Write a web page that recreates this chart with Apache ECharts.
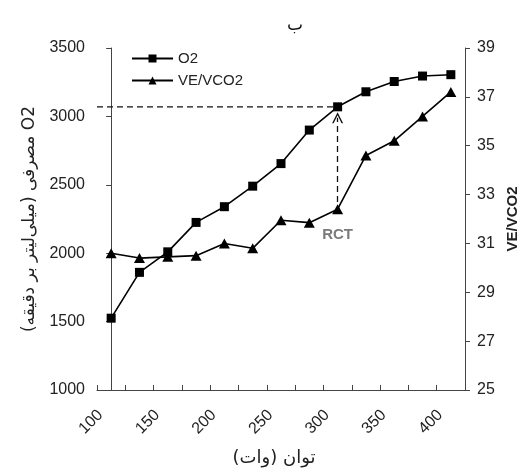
<!DOCTYPE html>
<html>
<head>
<meta charset="utf-8">
<script src="https://cdn.jsdelivr.net/npm/echarts@6/dist/echarts.min.js"></script>
<style>
    html, body { margin: 0; padding: 0; background: #fff; }
    #chart { width: 529px; height: 475px; }
</style>
</head>
<body>
<div id="chart" dir="rtl"></div>
<script>
// داده‌ها
var power = ['100', '125', '150', '175', '200', '225', '250', '275', '300', '325', '350', '375', '400'];
var o2 = [1525, 1860, 2010, 2225, 2340, 2490, 2655, 2900, 3070, 3180, 3255, 3295, 3305];
var veVco2 = [30.6, 30.4, 30.45, 30.5, 31.0, 30.8, 31.95, 31.85, 32.4, 34.6, 35.2, 36.2, 37.2];
var rctIndex = 8;

var leftMin = 1000, leftMax = 3500, leftStep = 500;
var rightMin = 25, rightMax = 39, rightStep = 2;

// تبدیل مقدار محور چپ به مقیاس محور راست
function toRight(v) {
    return rightMin + (v - leftMin) * (rightMax - rightMin) / (leftMax - leftMin);
}
function plain(v) {
    return String(v);
}

var axisColor = '#444';
var textColor = '#222';
var persianFont = 'DejaVu Sans';

var chart = echarts.init(document.getElementById('chart'));

var option = {
    backgroundColor: '#fff',
    animation: false,
    title: {
        text: 'ب',
        left: 282,
        top: 12,
        textStyle: { fontFamily: persianFont, fontSize: 17, fontWeight: 'normal', color: '#111' }
    },
    legend: {
        data: ['O2', 'VE/VCO2'],
        orient: 'vertical',
        left: 126,
        top: 46,
        itemWidth: 41,
        itemHeight: 10,
        itemGap: 7,
        textStyle: { fontFamily: 'Liberation Sans', fontSize: 15, color: textColor }
    },
    grid: { left: 97, right: 64, top: 48, bottom: 85 },
    xAxis: [{
        type: 'category',
        data: power,
        boundaryGap: true,
        name: 'توان (وات)',
        nameLocation: 'middle',
        nameGap: 59,
        nameMoveOverlap: false,
        nameTextStyle: { fontFamily: persianFont, fontSize: 18, color: textColor, align: 'center', padding: [0, 14, 0, 0] },
        axisLine: { show: true, lineStyle: { color: axisColor, width: 1 } },
        axisTick: { show: true, inside: true, length: 5, interval: 0, lineStyle: { color: axisColor } },
        axisLabel: {
            interval: 1,
            rotate: 45,
            margin: 12,
            padding: [0, 15, 0, 0],
            fontFamily: 'Liberation Sans',
            fontSize: 16,
            color: textColor
        },
        splitLine: { show: false }
    }, {
        // محور کمکی برای خط افقی تا لبه محور
        type: 'value',
        show: false,
        min: -0.5,
        max: power.length - 0.5
    }],
    yAxis: [{
        type: 'value',
        min: leftMin,
        max: leftMax,
        interval: leftStep,
        name: 'O2 مصرفی (میلی‌لیتر بر دقیقه)',
        nameLocation: 'middle',
        nameRotate: 90,
        nameGap: 58,
        nameTextStyle: { fontFamily: persianFont, fontSize: 17, color: textColor },
        axisLine: { show: true, lineStyle: { color: axisColor, width: 1 } },
        axisTick: { show: true, length: 5, lineStyle: { color: axisColor } },
        axisLabel: { margin: 12, fontFamily: 'Liberation Sans', fontSize: 16, color: textColor, formatter: plain },
        splitLine: { show: false }
    }, {
        type: 'value',
        position: 'right',
        min: rightMin,
        max: rightMax,
        interval: rightStep,
        name: 'VE/VCO2',
        nameLocation: 'middle',
        nameRotate: 90,
        nameGap: 40,
        nameTextStyle: { fontFamily: 'Liberation Sans', fontSize: 15, fontWeight: 'bold', color: textColor },
        axisLine: { show: true, lineStyle: { color: axisColor, width: 1 } },
        axisTick: { show: true, length: 5, lineStyle: { color: axisColor } },
        axisLabel: { margin: 12, fontFamily: 'Liberation Sans', fontSize: 16, color: textColor, formatter: plain },
        splitLine: { show: false }
    }],
    series: [{
        name: 'rctLevel',
        type: 'line',
        xAxisIndex: 1,
        yAxisIndex: 0,
        data: [[-0.5, o2[rctIndex]], [rctIndex, o2[rctIndex]]],
        symbol: 'none',
        silent: true,
        z: 1,
        lineStyle: { color: '#111', width: 1.3, type: [6, 4] }
    }, {
        name: 'O2',
        type: 'line',
        yAxisIndex: 0,
        data: o2,
        symbol: 'rect',
        symbolSize: 9,
        z: 3,
        itemStyle: { color: '#000' },
        lineStyle: { color: '#000', width: 1.6 }
    }, {
        name: 'VE/VCO2',
        type: 'line',
        yAxisIndex: 1,
        data: veVco2,
        symbol: 'triangle',
        symbolSize: [11, 10],
        z: 3,
        itemStyle: { color: '#000' },
        lineStyle: { color: '#000', width: 1.6 },
        markLine: {
            silent: true,
            symbol: ['none', 'path://M0,10 L5,0 L10,10 L8.6,10 L5,2.6 L1.4,10 Z'],
            symbolSize: [11, 11],
            label: { show: false },
            lineStyle: { color: '#111', width: 1.3, type: [6, 4] },
            data: [[
                { coord: [rctIndex, veVco2[rctIndex] + 0.3] },
                { coord: [rctIndex, toRight(o2[rctIndex]) - 0.45] }
            ]]
        },
        markPoint: {
            silent: true,
            symbol: 'circle',
            symbolSize: 0,
            itemStyle: { color: 'transparent' },
            label: {
                show: true,
                position: 'inside',
                offset: [0, 26],
                formatter: 'RCT',
                fontFamily: 'Liberation Sans',
                fontSize: 15,
                fontWeight: 'bold',
                color: '#7a7a7a'
            },
            data: [{ coord: [rctIndex, veVco2[rctIndex]] }]
        }
    }]
};

chart.setOption(option);
window.onresize = chart.resize;
</script>
</body>
</html>
